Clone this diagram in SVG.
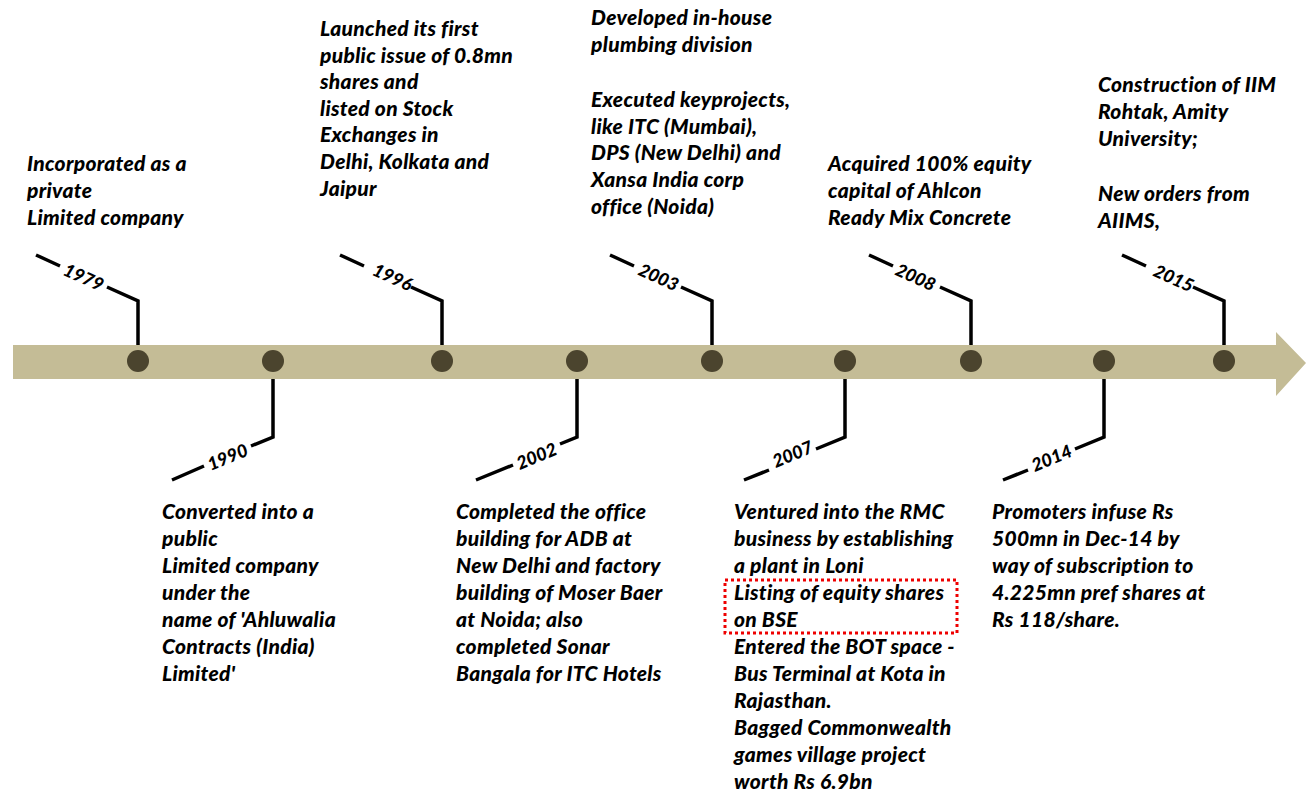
<svg xmlns="http://www.w3.org/2000/svg" width="1306" height="794" viewBox="0 0 1306 794">
<style>
.t{font-family:Lato,"Liberation Sans",sans-serif;font-weight:900;font-style:italic;font-size:21px;letter-spacing:0.3px;fill:#000}
.y{font-family:Lato,"Liberation Sans",sans-serif;font-weight:900;font-style:italic;font-size:18px;fill:#000}
.ln{fill:none;stroke:#000;stroke-width:3.5}
.dot{fill:#4b442e}
</style>
<rect width="1306" height="794" fill="#fff"/>
<g id="timeline">
<polygon points="13,345 1276,345 1276,332 1306,363 1276,396 1276,379 13,379" fill="#c4bc96"/>
</g>
<g id="connectors">
<g transform="translate(138,0)"><path class="ln" d="M-102,255 L-78,266 M-31,287 L0,301 L0,345"/></g>
<g transform="translate(442,0)"><path class="ln" d="M-102,255 L-78,266 M-31,287 L0,301 L0,345"/></g>
<g transform="translate(712,0)"><path class="ln" d="M-102,255 L-78,266 M-31,287 L0,301 L0,345"/></g>
<g transform="translate(971,0)"><path class="ln" d="M-102,255 L-78,266 M-31,287 L0,301 L0,345"/></g>
<g transform="translate(1224,0)"><path class="ln" d="M-102,255 L-78,266 M-31,287 L0,301 L0,345"/></g>
<g transform="translate(273,0)"><path class="ln" d="M0,379 L0,437 L-22,446 M-69,466 L-101,480"/></g>
<g transform="translate(577,0)"><path class="ln" d="M0,379 L0,437 L-17,444 M-64,465 L-101,480"/></g>
<g transform="translate(845,0)"><path class="ln" d="M0,379 L0,437 L-29,449 M-76,470 L-101,480"/></g>
<g transform="translate(1104,0)"><path class="ln" d="M0,379 L0,437 L-29,449 M-76,470 L-101,480"/></g>
</g>
<g id="dots">
<circle class="dot" cx="138" cy="361" r="11"/>
<circle class="dot" cx="273" cy="361" r="11"/>
<circle class="dot" cx="442" cy="361" r="11"/>
<circle class="dot" cx="577" cy="361" r="11"/>
<circle class="dot" cx="712" cy="361" r="11"/>
<circle class="dot" cx="845" cy="361" r="11"/>
<circle class="dot" cx="971" cy="361" r="11"/>
<circle class="dot" cx="1104" cy="361" r="11"/>
<circle class="dot" cx="1224" cy="361" r="11"/>
</g>
<g id="years" text-anchor="middle">
<text class="y" transform="translate(81,283) rotate(24.3)">1979</text>
<text class="y" transform="translate(390,283) rotate(24.3)">1996</text>
<text class="y" transform="translate(656,283) rotate(24.3)">2003</text>
<text class="y" transform="translate(913,283) rotate(24.3)">2008</text>
<text class="y" transform="translate(1171,284) rotate(24.3)">2015</text>
<text class="y" transform="translate(230,463) rotate(-22.6)">1990</text>
<text class="y" transform="translate(539,462) rotate(-22.6)">2002</text>
<text class="y" transform="translate(795,460) rotate(-22.6)">2007</text>
<text class="y" transform="translate(1054,464) rotate(-22.6)">2014</text>
</g>
<g id="n1979"><text class="t" x="27" y="171"><tspan x="27">Incorporated as a</tspan><tspan x="27" dy="27">private</tspan><tspan x="27" dy="27">Limited company</tspan></text></g>
<g id="n1996"><text class="t" x="320" y="36"><tspan x="320">Launched its first</tspan><tspan x="320" dy="26.6">public issue of 0.8mn</tspan><tspan x="320" dy="26.6">shares and</tspan><tspan x="320" dy="26.6">listed on Stock</tspan><tspan x="320" dy="26.6">Exchanges in</tspan><tspan x="320" dy="26.6">Delhi, Kolkata and</tspan><tspan x="320" dy="26.6">Jaipur</tspan></text></g>
<g id="n2003"><text class="t" x="591" y="25"><tspan x="591">Developed in-house</tspan><tspan x="591" dy="26.8">plumbing division</tspan><tspan x="591" dy="55">Executed keyprojects,</tspan><tspan x="591" dy="26.8">like ITC (Mumbai),</tspan><tspan x="591" dy="26.8">DPS (New Delhi) and</tspan><tspan x="591" dy="26.8">Xansa India corp</tspan><tspan x="591" dy="26.8">office (Noida)</tspan></text></g>
<g id="n2008"><text class="t" x="828" y="171"><tspan x="828">Acquired 100% equity</tspan><tspan x="828" dy="27">capital of Ahlcon</tspan><tspan x="828" dy="27">Ready Mix Concrete</tspan></text></g>
<g id="n2015"><text class="t" x="1098" y="92"><tspan x="1098">Construction of IIM</tspan><tspan x="1098" dy="27">Rohtak, Amity</tspan><tspan x="1098" dy="27">University;</tspan><tspan x="1098" dy="55">New orders from</tspan><tspan x="1098" dy="27">AIIMS,</tspan></text></g>
<g id="n1990"><text class="t" x="162" y="519"><tspan x="162">Converted into a</tspan><tspan x="162" dy="27">public</tspan><tspan x="162" dy="27">Limited company</tspan><tspan x="162" dy="27">under the</tspan><tspan x="162" dy="27">name of 'Ahluwalia</tspan><tspan x="162" dy="27">Contracts (India)</tspan><tspan x="162" dy="27">Limited'</tspan></text></g>
<g id="n2002"><text class="t" x="456" y="519"><tspan x="456">Completed the office</tspan><tspan x="456" dy="27">building for ADB at</tspan><tspan x="456" dy="27">New Delhi and factory</tspan><tspan x="456" dy="27">building of Moser Baer</tspan><tspan x="456" dy="27">at Noida; also</tspan><tspan x="456" dy="27">completed Sonar</tspan><tspan x="456" dy="27">Bangala for ITC Hotels</tspan></text></g>
<g id="n2007"><text class="t" x="734" y="519"><tspan x="734">Ventured into the RMC</tspan><tspan x="734" dy="27">business by establishing</tspan><tspan x="734" dy="27">a plant  in Loni</tspan><tspan x="734" dy="27">Listing of equity shares</tspan><tspan x="734" dy="27">on BSE</tspan><tspan x="734" dy="27">Entered the BOT space -</tspan><tspan x="734" dy="27">Bus Terminal at Kota in</tspan><tspan x="734" dy="27">Rajasthan.</tspan><tspan x="734" dy="27">Bagged Commonwealth</tspan><tspan x="734" dy="27">games village project</tspan><tspan x="734" dy="27">worth Rs 6.9bn</tspan></text>
<rect x="725" y="580" width="232" height="53" fill="none" stroke="#e00" stroke-width="3" stroke-dasharray="3,3"/></g>
<g id="n2014"><text class="t" x="992" y="519"><tspan x="992">Promoters infuse Rs</tspan><tspan x="992" dy="27">500mn in Dec-14 by</tspan><tspan x="992" dy="27">way of subscription to</tspan><tspan x="992" dy="27">4.225mn pref shares at</tspan><tspan x="992" dy="27">Rs 118/share.</tspan></text></g>
</svg>
